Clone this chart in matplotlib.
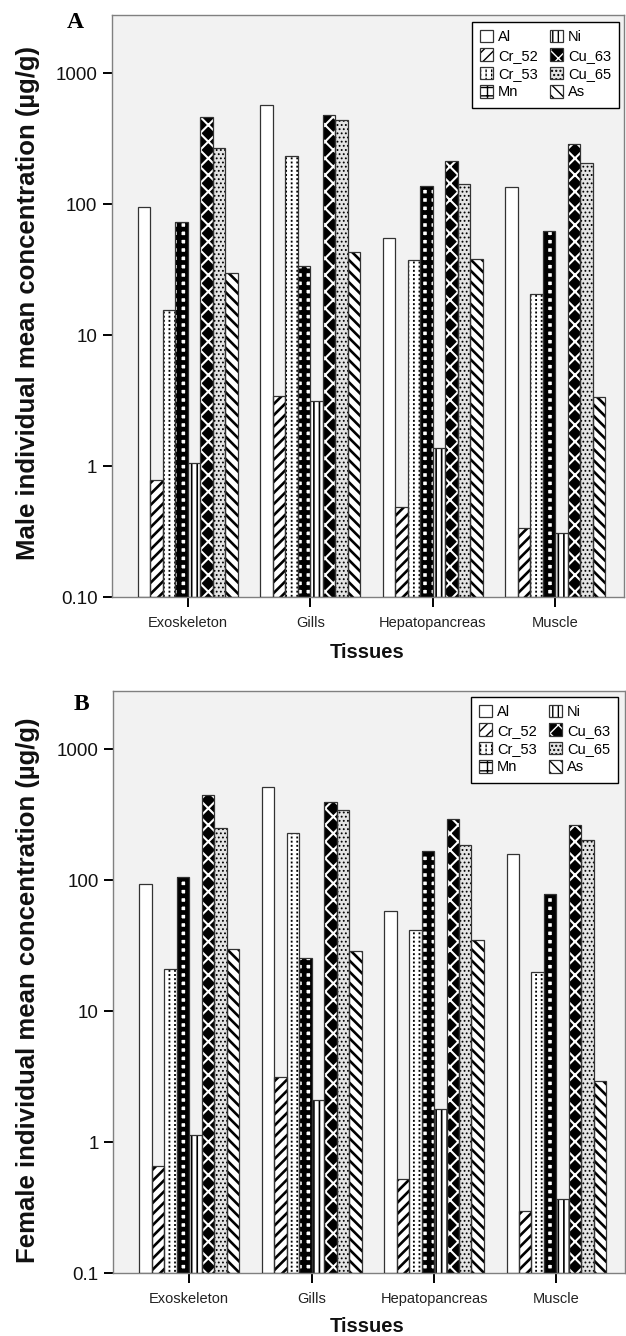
import matplotlib
matplotlib.use('Agg')
import matplotlib.pyplot as plt
import numpy as np
from matplotlib.ticker import NullLocator, FixedLocator
from matplotlib.legend_handler import HandlerTuple

plt.rcParams['font.family'] = ['Liberation Sans', 'DejaVu Sans']

tissues = ['Exoskeleton', 'Gills', 'Hepatopancreas', 'Muscle']
elements = ['Al', 'Cr_52', 'Cr_53', 'Mn', 'Ni', 'Cu_63', 'Cu_65', 'As']

# Male (panel A), values per tissue
male_al = [95.5, 568, 55.6, 136]
male_cr52 = [0.78, 3.46, 0.485, 0.337]
male_cr53 = [15.7, 232, 37.4, 20.7]
male_mn = [73.3, 33.8, 137.7, 62.7]
male_ni = [1.06, 3.17, 1.37, 0.307]
male_cu63 = [461, 476, 214, 289]
male_cu65 = [270, 436, 143, 205]
male_as = [30, 43, 38.4, 3.40]

# Female (panel B)
female_al = [93, 518, 58.3, 159]
female_cr52 = [0.66, 3.12, 0.525, 0.30]
female_cr53 = [21.1, 227, 41.8, 20.0]
female_mn = [105, 25.4, 167, 78.5]
female_ni = [1.13, 2.11, 1.78, 0.37]
female_cu63 = [444, 392, 294, 264]
female_cu65 = [250, 344, 185, 201]
female_as = [29.8, 29, 35, 2.94]

male = [male_al, male_cr52, male_cr53, male_mn, male_ni, male_cu63, male_cu65, male_as]
female = [female_al, female_cr52, female_cr53, female_mn, female_ni, female_cu63, female_cu65, female_as]

ticks_A = ['0.10', '1', '10', '100', '1000']
ticks_B = ['0.1', '1', '10', '100', '1000']

styles = {
    'Al':    dict(face='white', hatch=None, hcolor='black', hlw=1.0),
    'Cr_52': dict(face='white', hatch='///', hcolor='black', hlw=1.9),
    'Cr_53': dict(face='white', hatch='|||', hcolor='black', hlw=1.3, over=('----', 'white', 1.6)),
    'Mn':    dict(face='white', hatch='++', hcolor='black', hlw=3.4),
    'Ni':    dict(face='white', hatch='|||', hcolor='black', hlw=1.2),
    'Cu_63': dict(face='black', hatch='xx', hcolor='white', hlw=1.5),
    'Cu_65': dict(face='#e4e4e4', hatch='....', hcolor='black', hlw=0.8),
    'As':    dict(face='white', hatch='\\\\\\', hcolor='black', hlw=1.9),
}

W, H = 626, 1336
fig = plt.figure(figsize=(W / 100, H / 100), dpi=100)
fig.patch.set_facecolor('white')


def px_axes(left, right, top, bottom):
    return fig.add_axes([left / W, 1 - bottom / H, (right - left) / W, (bottom - top) / H])


def draw_panel(ax, data, yticklabels, ylabel, letter, letter_xy, ylab_y, xlab_y, legend_anchor):
    ax.set_facecolor('#f2f2f2')
    ax.set_yscale('log')
    ax.set_ylim(0.1, 2775)
    ax.set_xlim(-0.62, 3.56)
    w = 0.102
    x = np.arange(len(tissues))
    handles = []
    for j, (name, vals) in enumerate(zip(elements, data)):
        st = styles[name]
        pos = x + (j - 3.5) * w
        heights = np.array(vals) - 0.1
        with plt.rc_context({'hatch.linewidth': st['hlw']}):
            b1 = ax.bar(pos, heights, width=w, bottom=0.1, color=st['face'],
                        edgecolor=st['hcolor'], hatch=st['hatch'], linewidth=0, zorder=2)
        layers = [b1.patches[0]]
        if 'over' in st:
            oh, oc, olw = st['over']
            with plt.rc_context({'hatch.linewidth': olw}):
                b2 = ax.bar(pos, heights, width=w, bottom=0.1, fill=False,
                            edgecolor=oc, hatch=oh, linewidth=0, zorder=2.1)
            layers.append(b2.patches[0])
        b3 = ax.bar(pos, heights, width=w, bottom=0.1, fill=False,
                    edgecolor='#333333', linewidth=0.9, zorder=3)
        layers.append(b3.patches[0])
        handles.append(tuple(layers))

    for s in ax.spines.values():
        s.set_color('#808080')
        s.set_linewidth(1.0)
    ax.yaxis.set_major_locator(FixedLocator([0.1, 1, 10, 100, 1000]))
    ax.yaxis.set_minor_locator(NullLocator())
    ax.set_yticklabels(yticklabels)
    ax.set_xticks(x)
    ax.set_xticklabels(tissues)
    ax.tick_params(axis='y', length=6.5, width=1.4, color='black', labelsize=13.5, pad=4,
                   labelcolor='#111111')
    ax.tick_params(axis='x', length=7, width=1.4, color='black', labelsize=10.5, pad=6.5,
                   labelcolor='#222222')

    leg = ax.legend(handles, elements, ncol=2, loc='upper right',
                    bbox_to_anchor=legend_anchor, bbox_transform=fig.transFigure,
                    borderaxespad=0, frameon=True, fancybox=False, framealpha=1,
                    edgecolor='black', facecolor='white', fontsize=10.5,
                    handlelength=0.9, handleheight=0.9, handletextpad=0.35,
                    columnspacing=0.8, labelspacing=0.3, borderpad=0.55,
                    handler_map={tuple: HandlerTuple(ndivide=1, pad=0)})
    leg.get_frame().set_linewidth(1.0)

    fig.text(letter_xy[0] / W, 1 - letter_xy[1] / H, letter, family=['Liberation Serif', 'DejaVu Serif'],
             fontweight='bold', fontsize=17, ha='center', va='center')
    fig.text(28 / W, 1 - ylab_y / H, ylabel, rotation=90, fontweight='bold', fontsize=18.5,
             ha='center', va='center', color='#111111')
    fig.text(367 / W, 1 - xlab_y / H, 'Tissues', fontweight='bold', fontsize=14.5,
             ha='center', va='center', color='#111111')


axA = px_axes(112, 624, 15, 597.3)
draw_panel(axA, male, ticks_A, 'Male individual mean concentration (µg/g)', 'A', (75, 22),
           303, 652, (619 / W, 1 - 22 / H))

axB = px_axes(113.3, 625, 691, 1273.3)
draw_panel(axB, female, ticks_B, 'Female individual mean concentration (µg/g)', 'B', (81, 704),
           990, 1326, (618 / W, 1 - 697 / H))

fig.savefig('out.png', dpi=100, facecolor='white')
